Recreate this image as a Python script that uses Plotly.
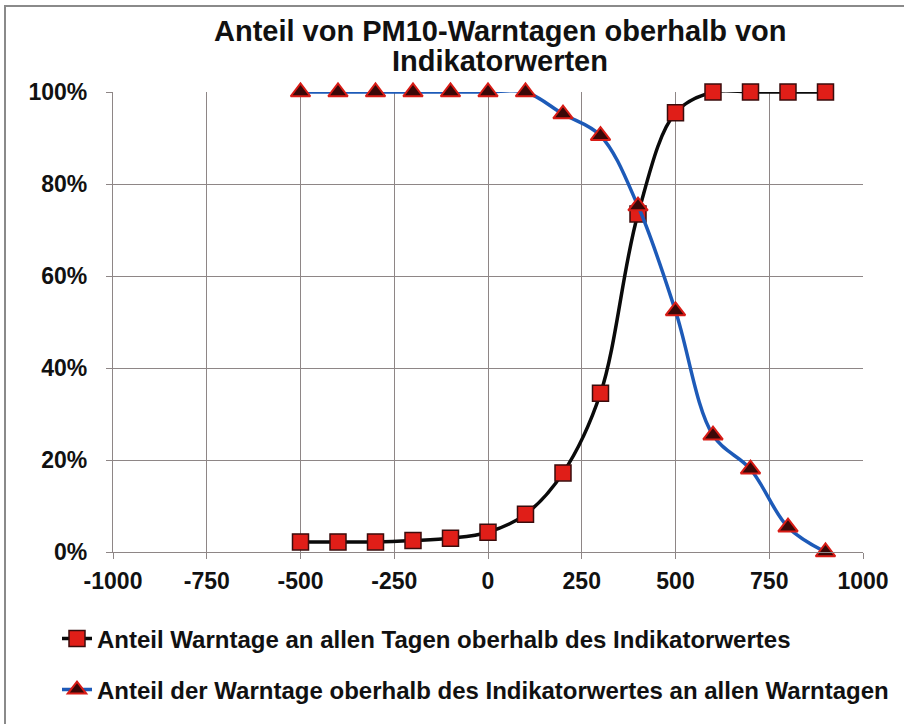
import plotly.graph_objects as go

# Indicator thresholds (x) and the two shares plotted against them
indicator = [-500, -400, -300, -200, -100, 0, 100, 200, 300, 400, 500, 600, 700, 800, 900]
share_of_all_days = [0.022, 0.022, 0.022, 0.025, 0.030, 0.043, 0.082, 0.172, 0.345,
                     0.735, 0.955, 1.0, 1.0, 1.0, 1.0]
share_of_warn_days = [1.0, 1.0, 1.0, 1.0, 1.0, 1.0, 1.0, 0.952, 0.905, 0.752, 0.524,
                      0.254, 0.180, 0.054, 0.0]

x_ticks = [-1000, -750, -500, -250, 0, 250, 500, 750, 1000]
y_ticks = [0, 0.2, 0.4, 0.6, 0.8, 1.0]

name_all_days = "Anteil Warntage an allen Tagen oberhalb des Indikatorwertes"
name_warn_days = "Anteil der Warntage oberhalb des Indikatorwertes an allen Warntagen"
title_lines = ["Anteil von PM10-Warntagen oberhalb von", "Indikatorwerten"]

FONT = "Liberation Sans, Arial, sans-serif"
GRID = "#8e8686"

fig = go.Figure()
fig.add_trace(go.Scatter(
    x=indicator, y=share_of_all_days, name=name_all_days,
    mode="lines+markers", legendgroup="a", cliponaxis=False,
    line=dict(color="#0a0a0a", width=3.5, shape="spline", smoothing=1.0),
    marker=dict(symbol="square", size=16, color="#e01e18",
                line=dict(color="#3a0c0c", width=1.5)),
))
fig.add_trace(go.Scatter(
    x=indicator, y=share_of_warn_days, name=name_warn_days,
    mode="lines+markers", legendgroup="b", cliponaxis=False,
    line=dict(color="#1d5ab8", width=3.5, shape="spline", smoothing=1.0),
    marker=dict(symbol="triangle-up", size=17, color="#3a0808",
                line=dict(color="#d81c16", width=2)),
))

W, H = 904, 724
L, R, T, B = 113, 41, 92, 167
pw, ph = W - L - R, H - T - B


def px_x(px):
    return (px - L) / pw


def px_y(py):
    return (H - B - py) / ph


annotations = [
    dict(text=title_lines[0], x=px_x(500), y=px_y(30), xref="paper", yref="paper",
         xanchor="center", yanchor="middle", showarrow=False,
         font=dict(family=FONT, size=29, color="#111111", weight="bold")),
    dict(text=title_lines[1], x=px_x(500), y=px_y(61), xref="paper", yref="paper",
         xanchor="center", yanchor="middle", showarrow=False,
         font=dict(family=FONT, size=29, color="#111111", weight="bold")),
]

fig.update_layout(
    width=W, height=H,
    margin=dict(l=L, r=R, t=T, b=B),
    paper_bgcolor="white", plot_bgcolor="white",
    font=dict(family=FONT, color="#111111"),
    annotations=annotations,
    showlegend=True,
    legend=dict(
        x=px_x(57), y=px_y(622), xanchor="left", yanchor="top",
        xref="paper", yref="paper",
        traceorder="grouped", tracegroupgap=17,
        font=dict(family=FONT, size=24, color="#111111", weight="bold"),
        bgcolor="rgba(0,0,0,0)",
    ),
    shapes=[dict(type="rect", xref="paper", yref="paper",
                 x0=px_x(5), y0=px_y(760), x1=px_x(960), y1=px_y(5),
                 line=dict(color="#8a8a8a", width=2), fillcolor="rgba(0,0,0,0)",
                 layer="below")],
)

fig.update_xaxes(
    range=[-1000, 1000], tickvals=x_ticks, ticktext=[str(v) for v in x_ticks],
    showgrid=True, gridcolor=GRID, gridwidth=1.3,
    showline=True, linecolor=GRID, linewidth=1.3,
    ticks="outside", ticklen=6, tickcolor=GRID, tickwidth=1.3,
    tickfont=dict(family=FONT, size=23, color="#111111", weight="bold"),
    ticklabelstandoff=2,
    zeroline=False, mirror=False,
)
fig.update_yaxes(
    range=[0, 1], tickvals=y_ticks, ticktext=[f"{int(round(v * 100))}%" for v in y_ticks],
    showgrid=True, gridcolor=GRID, gridwidth=1.3,
    showline=True, linecolor=GRID, linewidth=1.3,
    ticks="outside", ticklen=6, tickcolor=GRID, tickwidth=1.3,
    tickfont=dict(family=FONT, size=23, color="#111111", weight="bold"),
    ticklabelstandoff=14,
    zeroline=False,
)

fig.write_html("out.html")
